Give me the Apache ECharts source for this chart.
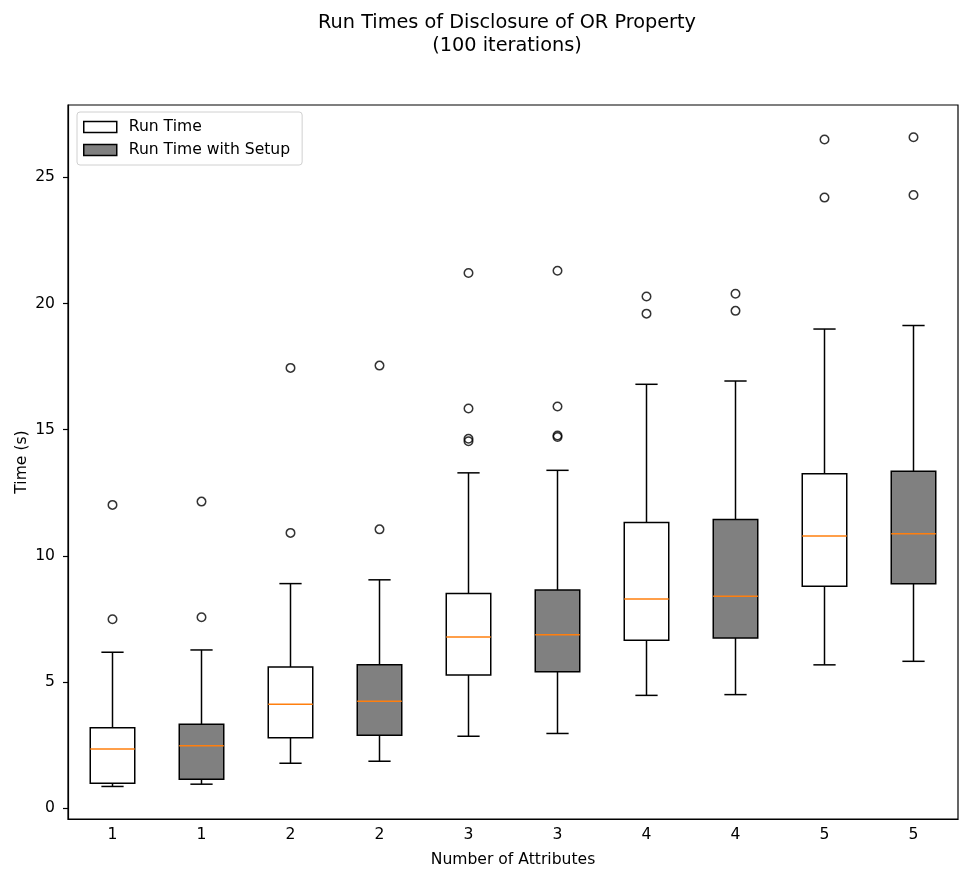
<!DOCTYPE html>
<html>
<head>
<meta charset="utf-8">
<script src="https://cdn.jsdelivr.net/npm/echarts@6/dist/echarts.min.js"></script>
<style>
  html, body { margin: 0; padding: 0; background: #fff; }
  #chart { width: 959px; height: 873px; }
</style>
</head>
<body>
<div id="chart"></div>
<script>
// Number of attributes shown under each box (two boxes per attribute count)
const tickLabels = ['1', '1', '2', '2', '3', '3', '4', '4', '5', '5'];
const positions = [0, 1, 2, 3, 4, 5, 6, 7, 8, 9];

// Box statistics: [position, lower whisker, Q1, median, Q3, upper whisker]
const runTime = [
  [0, 0.86, 0.99, 2.34, 3.19, 6.18],
  [2, 1.78, 2.79, 4.12, 5.59, 8.90],
  [4, 2.85, 5.28, 6.78, 8.51, 13.29],
  [6, 4.47, 6.65, 8.29, 11.32, 16.80],
  [8, 5.68, 8.80, 10.79, 13.25, 18.99]
];
const runTimeSetup = [
  [1, 0.95, 1.15, 2.47, 3.33, 6.27],
  [3, 1.86, 2.89, 4.24, 5.68, 9.05],
  [5, 2.96, 5.41, 6.87, 8.65, 13.39],
  [7, 4.50, 6.74, 8.40, 11.44, 16.93],
  [9, 5.82, 8.89, 10.88, 13.35, 19.13]
];

// Outlier points: [position, value]
const outliers = [
  [0, 12.02], [0, 7.49],
  [1, 12.15], [1, 7.57],
  [2, 17.45], [2, 10.91],
  [3, 17.54], [3, 11.05],
  [4, 21.21], [4, 15.84], [4, 14.64], [4, 14.54],
  [5, 21.30], [5, 15.92], [5, 14.77], [5, 14.71],
  [6, 20.28], [6, 19.60],
  [7, 20.39], [7, 19.71],
  [8, 26.50], [8, 24.20],
  [9, 26.59], [9, 24.30]
];

const yTicks = [0, 5, 10, 15, 20, 25];

const FONT = 'DejaVu Sans';
const FS = 15.6;

function boxRenderer(fillColor) {
  return function (params, api) {
    const x = api.value(0);
    const low = api.coord([x, api.value(1)]);
    const q1 = api.coord([x, api.value(2)]);
    const med = api.coord([x, api.value(3)]);
    const q3 = api.coord([x, api.value(4)]);
    const high = api.coord([x, api.value(5)]);
    const band = api.size([1, 0])[0];
    const halfBox = band * 0.25;
    const halfCap = band * 0.125;
    const cx = low[0];
    const lineStyle = { stroke: '#000', lineWidth: 1.5 };
    return {
      type: 'group',
      children: [
        { type: 'line', shape: { x1: cx, y1: q3[1], x2: cx, y2: high[1] }, style: lineStyle },
        { type: 'line', shape: { x1: cx, y1: q1[1], x2: cx, y2: low[1] }, style: lineStyle },
        { type: 'line', shape: { x1: cx - halfCap, y1: high[1], x2: cx + halfCap, y2: high[1] }, style: lineStyle },
        { type: 'line', shape: { x1: cx - halfCap, y1: low[1], x2: cx + halfCap, y2: low[1] }, style: lineStyle },
        {
          type: 'rect',
          shape: { x: cx - halfBox, y: q3[1], width: halfBox * 2, height: q1[1] - q3[1] },
          style: { fill: fillColor, stroke: '#000', lineWidth: 1.5 }
        },
        { type: 'line', shape: { x1: cx - halfBox, y1: med[1], x2: cx + halfBox, y2: med[1] }, style: { stroke: '#ff7f0e', lineWidth: 1.5 } }
      ]
    };
  };
}

const chart = echarts.init(document.getElementById('chart'), null, { renderer: 'canvas' });

chart.setOption({
  animation: false,
  backgroundColor: '#fff',
  title: [
    {
      text: 'Run Times of Disclosure of OR Property\n(100 iterations)',
      left: 502, top: 6, textAlign: 'center',
      textStyle: { fontFamily: FONT, fontSize: 19.3, fontWeight: 'normal', color: '#000', lineHeight: 23, align: 'center' }
    }
  ],
  legend: {
    orient: 'vertical',
    left: 77, top: 112,
    padding: [7, 12, 7, 6],
    itemGap: 7,
    itemWidth: 33,
    itemHeight: 11,
    borderColor: '#d0d0d0', borderWidth: 1, borderRadius: 3,
    backgroundColor: 'rgba(255,255,255,0.8)',
    icon: 'rect',
    textStyle: { fontFamily: FONT, fontSize: FS, color: '#000', padding: [0, 0, 0, 7] },
    data: [
      { name: 'Run Time', itemStyle: { color: '#ffffff', borderColor: '#000', borderWidth: 1.5 } },
      { name: 'Run Time with Setup', itemStyle: { color: '#808080', borderColor: '#000', borderWidth: 1.5 } }
    ]
  },
  grid: {
    left: 68, right: 1, top: 105, bottom: 54,
    outerBoundsMode: 'none',
    show: true, borderColor: '#000', borderWidth: 1.2, backgroundColor: '#fff'
  },
  xAxis: {
    type: 'category',
    data: positions.map(String),
    boundaryGap: true,
    name: 'Number of Attributes',
    nameLocation: 'middle',
    nameGap: 33,
    nameMoveOverlap: false,
    nameTextStyle: { fontFamily: FONT, fontSize: FS, color: '#000' },
    axisLine: { onZero: false, lineStyle: { color: '#000', width: 1.2 } },
    axisTick: { alignWithLabel: true, length: 5, lineStyle: { color: '#000', width: 1.2 } },
    axisLabel: {
      fontFamily: FONT, fontSize: FS, color: '#000', margin: 8,
      formatter: function (v, i) { return tickLabels[i]; }
    },
    splitLine: { show: false }
  },
  yAxis: {
    type: 'value',
    min: -0.43, max: 27.87,
    name: 'Time (s)',
    nameLocation: 'middle',
    nameGap: 38,
    nameMoveOverlap: false,
    nameTextStyle: { fontFamily: FONT, fontSize: FS, color: '#000' },
    axisLine: { show: true, onZero: false, lineStyle: { color: '#000', width: 1.2 } },
    axisTick: { show: true, length: 5, customValues: yTicks, lineStyle: { color: '#000', width: 1.2 } },
    axisLabel: { fontFamily: FONT, fontSize: FS, color: '#000', margin: 13, customValues: yTicks },
    splitLine: { show: false }
  },
  series: [
    {
      name: 'Run Time',
      type: 'custom',
      renderItem: boxRenderer('#ffffff'),
      itemStyle: { color: '#ffffff' },
      encode: { x: 0, y: [1, 2, 3, 4, 5] },
      data: runTime,
      z: 3
    },
    {
      name: 'Run Time with Setup',
      type: 'custom',
      renderItem: boxRenderer('#808080'),
      itemStyle: { color: '#808080' },
      encode: { x: 0, y: [1, 2, 3, 4, 5] },
      data: runTimeSetup,
      z: 3
    },
    {
      name: 'Outliers',
      type: 'scatter',
      symbol: 'circle',
      symbolSize: 8.5,
      itemStyle: { color: 'rgba(0,0,0,0)', borderColor: '#000', borderWidth: 1.5 },
      data: outliers,
      z: 4
    }
  ]
});
</script>
</body>
</html>
